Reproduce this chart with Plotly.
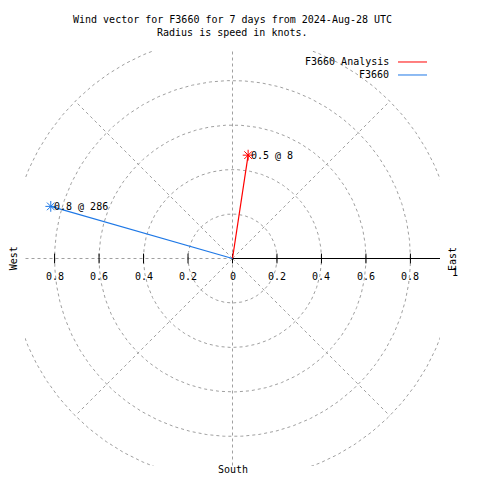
import numpy as np
import plotly.graph_objects as go

# ---- data ----
series_names = ["F3660 Analysis", "F3660"]
series_colors = ["#ff0000", "#1e78e6"]
speeds = [0.47, 0.85]          # knots (radius)
directions = [8.6, 286.0]      # degrees clockwise from north
point_labels = ["0.5 @ 8", "0.8 @ 286"]

grid_radii = [0.2, 0.4, 0.6, 0.8, 1.0]
spoke_angles = [0, 45, 90, 135, 180, 225, 270, 315]  # math angle, deg
tick_values = [-0.8, -0.6, -0.4, -0.2, 0, 0.2, 0.4, 0.6, 0.8]
tick_labels = ["0.8", "0.6", "0.4", "0.2", "0", "0.2", "0.4", "0.6", "0.8"]

title_lines = ["Wind vector for F3660 for 7 days from 2024-Aug-28 UTC",
               "Radius is speed in knots."]

FONT = "DejaVu Sans Mono"
GRID = "#a0a0a0"
DASH = "3px,3px"
R = 0.933

fig = go.Figure()

# grid circles
t = np.linspace(0, 2 * np.pi, 721)
for r in grid_radii:
    fig.add_trace(go.Scatter(x=r * np.cos(t), y=r * np.sin(t), mode="lines",
                             line=dict(color=GRID, width=1, dash=DASH),
                             hoverinfo="skip", showlegend=False))
# spokes
for a in spoke_angles:
    if a == 0:
        continue
    ar = np.radians(a)
    fig.add_trace(go.Scatter(x=[0, np.cos(ar)], y=[0, np.sin(ar)], mode="lines",
                             line=dict(color=GRID, width=1, dash=DASH),
                             hoverinfo="skip", showlegend=False))
# solid east axis
fig.add_trace(go.Scatter(x=[0, 1.2], y=[0, 0], mode="lines",
                         line=dict(color="black", width=1),
                         hoverinfo="skip", showlegend=False))
# ticks
fig.add_trace(go.Scatter(x=tick_values, y=[0] * len(tick_values), mode="markers",
                         marker=dict(symbol="line-ns", size=7, color="black",
                                     line=dict(color="black", width=1)),
                         hoverinfo="skip", showlegend=False))

# vectors
for name, col, s, d, lab in zip(series_names, series_colors, speeds, directions, point_labels):
    th = np.radians(90 - d)
    x1, y1 = s * np.cos(th), s * np.sin(th)
    fig.add_trace(go.Scatter(x=[0, x1], y=[0, y1], mode="lines",
                             line=dict(color=col, width=1.2), name=name, showlegend=False))
    fig.add_trace(go.Scatter(x=[x1], y=[y1], mode="markers",
                             marker=dict(symbol="asterisk-open", size=9, color=col,
                                         line=dict(color=col, width=1)),
                             showlegend=False))
    fig.add_annotation(x=x1, y=y1, text=lab, showarrow=False, xanchor="left",
                       yanchor="middle", xshift=1, font=dict(family=FONT, size=10, color="black"))

# tick labels
for v, lab in zip(tick_values, tick_labels):
    fig.add_annotation(x=v, y=0, text=lab, showarrow=False, yshift=-18, xanchor="center",
                       font=dict(family=FONT, size=10, color="black"))
fig.add_annotation(xref="paper", x=1.037, y=0, text="1", showarrow=False, yshift=-14,
                   xanchor="center", font=dict(family=FONT, size=10, color="black"))

# compass labels
fig.add_annotation(xref="paper", x=-0.027, y=0, text="West", textangle=-90, showarrow=False,
                   xanchor="center", font=dict(family=FONT, size=10, color="black"))
fig.add_annotation(xref="paper", x=1.030, y=0, text="East", textangle=-90, showarrow=False,
                   xanchor="center", font=dict(family=FONT, size=10, color="black"))
fig.add_annotation(x=0, yref="paper", y=-0.0096, text="South", showarrow=False,
                   xanchor="center", yanchor="middle", font=dict(family=FONT, size=10, color="black"))

# title
for ty, line in zip([1.0747, 1.0434], title_lines):
    fig.add_annotation(xref="paper", yref="paper", x=0.4988, y=ty, text=line,
                       showarrow=False, xanchor="center", yanchor="middle",
                       font=dict(family=FONT, size=10, color="black"))

# legend
leg_y = [0.9735, 0.9422]
for name, col, ly in zip(series_names, series_colors, leg_y):
    fig.add_annotation(xref="paper", yref="paper", x=0.8819, y=ly, text=name, showarrow=False,
                       xanchor="right", yanchor="middle",
                       font=dict(family=FONT, size=10, color="black"))
    fig.add_shape(type="line", xref="paper", yref="paper", x0=0.8988, x1=0.9687, y0=ly, y1=ly,
                  line=dict(color=col, width=1))

# page body has an 8px margin, so shift the figure's margins by 8px
fig.update_layout(
    width=480, height=480,
    margin=dict(l=17, r=48, t=43, b=22),
    paper_bgcolor="white", plot_bgcolor="white",
    showlegend=False,
    xaxis=dict(range=[-R, R], visible=False, fixedrange=True),
    yaxis=dict(range=[-R, R], visible=False, fixedrange=True),
)

fig.write_html("out.html")
